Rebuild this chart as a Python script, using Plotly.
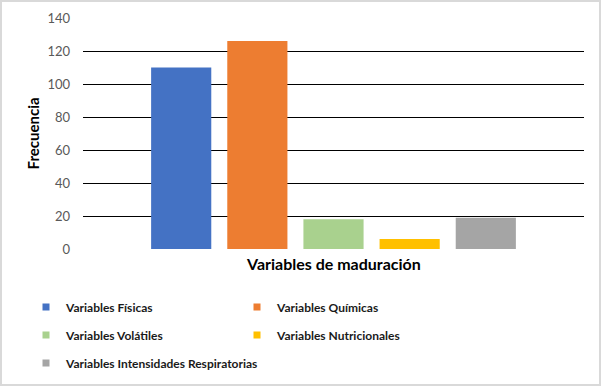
import plotly.graph_objects as go

series = ["Variables Físicas", "Variables Químicas", "Variables Volátiles",
          "Variables Nutricionales", "Variables Intensidades Respiratorias"]
values = [110, 126, 18, 6, 19]
colors = ["#4472C4", "#ED7D31", "#A9D18E", "#FFC000", "#A5A5A5"]
category = ["Variables de maduración"]
y_ticks = [0, 20, 40, 60, 80, 100, 120, 140]
x_title = "Variables de maduración"
y_title = "Frecuencia"

# legend grid: (column text start px, row center px)
legend_ids = ["legend", "legend2", "legend3", "legend4", "legend5"]
legend_cols = [26, 237, 26, 237, 26]
legend_rows = [307, 307, 335, 335, 363]

FONT = "Lato, Liberation Sans, sans-serif"
W, H = 601, 386
ML, MR, MT, MB = 83, 17, 18, 137
PW, PH = W - ML - MR, H - MT - MB

fig = go.Figure()
for name, v, c in zip(series, values, colors):
    fig.add_trace(go.Bar(x=category, y=[v], name=name, marker_color=c,
                         marker_line_width=0, showlegend=False))
for name, c, lg in zip(series, colors, legend_ids):
    fig.add_trace(go.Scatter(x=[None], y=[None], mode="markers", name=name,
                             legend=lg,
                             marker=dict(symbol="square", size=7, color=c)))


def leg(xl, yc):
    return dict(orientation="v", xref="container", yref="container",
                x=xl / W, xanchor="left", y=1 - yc / H, yanchor="middle",
                bgcolor="rgba(0,0,0,0)",
                font=dict(family=FONT, size=12, color="#1a1a1a", weight="bold"),
                tracegroupgap=0, itemclick=False, itemdoubleclick=False)


legends = {lg: leg(x, y) for lg, x, y in zip(legend_ids, legend_cols, legend_rows)}

fig.update_layout(
    width=W, height=H,
    margin=dict(l=ML, r=MR, t=MT, b=MB, autoexpand=False),
    paper_bgcolor="white", plot_bgcolor="white",
    barmode="group", bargap=0.24, bargroupgap=0.21,
    font=dict(family=FONT, size=13, color="#000000"),
    showlegend=True,
    **legends,
    xaxis=dict(showticklabels=False, showgrid=False, zeroline=False, showline=False,
               automargin=False),
    yaxis=dict(range=[0, 140], tickvals=y_ticks, showgrid=True, gridcolor="#000000",
               gridwidth=1, zeroline=False, showline=False, ticks="",
               automargin=False, ticklabelstandoff=12,
               tickfont=dict(family=FONT, size=13, color="#595959")),
)
fig.add_annotation(text="<b>" + x_title + "</b>", xref="paper", yref="paper",
                   x=0.5, y=-(263 - (H - MB)) / PH, xanchor="center", yanchor="middle",
                   showarrow=False, font=dict(family=FONT, size=16, color="#000000"))
fig.add_annotation(text="<b>" + y_title + "</b>", xref="paper", yref="paper",
                   x=-(ML - 32) / PW, y=0.5, xanchor="center", yanchor="middle",
                   textangle=-90, showarrow=False,
                   font=dict(family=FONT, size=15, color="#000000"))
fig.add_shape(type="rect", xref="paper", yref="paper",
              x0=-(ML - 1) / PW, x1=1 + (MR - 1) / PW, y0=-(MB - 1) / PH, y1=1 + (MT - 1) / PH,
              line=dict(color="#D9D9D9", width=2), layer="below")

fig.write_html("out.html", config={"displayModeBar": False},
               post_script="document.body.style.margin='0';document.body.style.padding='0';")
